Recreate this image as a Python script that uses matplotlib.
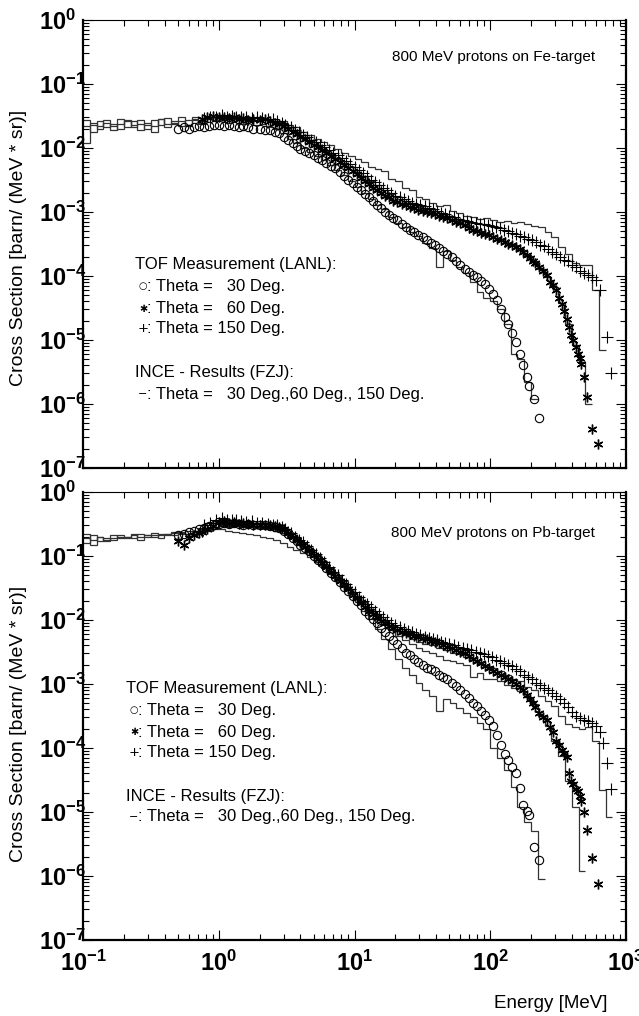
import numpy as np
import matplotlib
matplotlib.use('Agg')
from matplotlib import pyplot as plt
from matplotlib import font_manager as fm
from matplotlib.ticker import LogLocator, NullFormatter, FuncFormatter

### Data ###

# common histogram bin edges of the INCE calculation (MeV)
EDGES = [0.1, 0.112, 0.126, 0.141, 0.158, 0.178, 0.2, 0.224, 0.251, 0.282,
         0.316, 0.355, 0.398, 0.447, 0.501, 0.562, 0.631, 0.708, 0.794, 0.891,
         1.0, 1.12, 1.26, 1.41, 1.58, 1.78, 2.0, 2.24, 2.51, 2.82,
         3.16, 3.55, 3.98, 4.47, 5.01, 5.62, 6.31, 7.08, 7.94, 8.91,
         10.0, 11.2, 12.6, 14.1, 15.8, 17.8, 20.0, 22.4, 25.1, 28.2,
         31.6, 35.5, 39.8, 44.7, 50.1, 56.2, 63.1, 70.8, 79.4, 89.1,
         100, 112, 126, 141, 158, 178, 200, 224, 251, 282,
         316, 355, 398, 447, 501, 562, 631, 708, 794]

# --- Fe target, INCE histograms ---
INCE_FE_150 = [0.012, 0.025, 0.022, 0.027, 0.019, 0.024, 0.026, 0.021, 0.027, 0.023,
               0.018, 0.028, 0.024, 0.026, 0.030, 0.022, 0.028, 0.025, 0.031, 0.027,
               0.030, 0.028, 0.031, 0.027, 0.029, 0.026, 0.028, 0.027, 0.025, 0.026,
               0.023, 0.021, 0.018, 0.016, 0.014, 0.0125, 0.011, 0.0095, 0.0085, 0.0075,
               0.0068, 0.0060, 0.0050, 0.0047, 0.0043, 0.0033, 0.0030, 0.0024, 0.0022, 0.0017,
               0.0016, 0.0014, 0.00125, 0.0013, 0.00105, 0.00098, 0.00088, 0.00085, 0.00078, 0.00080,
               0.00074, 0.00070, 0.00072, 0.00068, 0.00070, 0.00064, 0.00060, 0.00058, 0.00048, 0.00040,
               0.00028, 0.00022, 0.00016, 0.00015, 0.00015, 0.00006, 0.000007]
INCE_FE_60 = [0.027, 0.023, 0.020, 0.025, 0.022, 0.028, 0.021, 0.026, 0.024, 0.020,
              0.027, 0.023, 0.029, 0.025, 0.022, 0.027, 0.030, 0.026, 0.029, 0.031,
              0.032, 0.029, 0.030, 0.028, 0.031, 0.027, 0.029, 0.027, 0.026, 0.024,
              0.021, 0.018, 0.015, 0.013, 0.011, 0.0095, 0.0080, 0.0068, 0.0058, 0.0050,
              0.0042, 0.0036, 0.0030, 0.0026, 0.0022, 0.0019, 0.0017, 0.0015, 0.0014, 0.0012,
              0.0011, 0.00095, 0.00090, 0.00082, 0.00075, 0.00068, 0.00062, 0.00055, 0.00050, 0.00045,
              0.00042, 0.00037, 0.00033, 0.00030, 0.00026, 0.00021, 0.00017, 0.00013, 0.000095, 0.000068,
              0.000038, 0.000018, 0.0000085, 0.0000045, 0.000001]
INCE_FE_30 = [0.022, 0.018, 0.026, 0.021, 0.024, 0.020, 0.027, 0.023, 0.019, 0.025,
              0.022, 0.028, 0.021, 0.024, 0.026, 0.023, 0.027, 0.024, 0.028, 0.026,
              0.027, 0.025, 0.028, 0.024, 0.026, 0.023, 0.024, 0.021, 0.020, 0.017,
              0.014, 0.012, 0.0100, 0.0088, 0.0076, 0.0065, 0.0055, 0.0046, 0.0038, 0.0031,
              0.0025, 0.0020, 0.0016, 0.0013, 0.0011, 0.00085, 0.00068, 0.00058, 0.00048, 0.00042,
              0.00033, 0.00027, 0.00014, 0.00025, 0.00018, 0.00014, 0.00011, 0.000080, 0.000056, 0.000045,
              0.000040, 0.000030, 0.000018, 0.0000060, 0.0000050, 0.0000022, 0.0000012]

# --- Pb target, INCE histograms ---
INCE_PB_150 = [0.22, 0.18, 0.20, 0.17, 0.19, 0.21, 0.20, 0.19, 0.22, 0.21,
               0.20, 0.22, 0.21, 0.23, 0.24, 0.22, 0.25, 0.27, 0.26, 0.28,
               0.30, 0.29, 0.30, 0.29, 0.29, 0.28, 0.28, 0.27, 0.26, 0.25,
               0.22, 0.19, 0.16, 0.13, 0.105, 0.085, 0.066, 0.051, 0.040, 0.030,
               0.024, 0.019, 0.015, 0.012, 0.0095, 0.0080, 0.0068, 0.0058, 0.0050, 0.0045,
               0.0042, 0.0040, 0.0036, 0.0034, 0.0031, 0.0029, 0.0026, 0.0024, 0.0021, 0.0019,
               0.0018, 0.0016, 0.0014, 0.0012, 0.0011, 0.0009, 0.0008, 0.00065, 0.00055, 0.00045,
               0.00032, 0.00024, 0.00021, 0.00020, 0.00021, 0.00013, 0.000022, 0.0000083]
INCE_PB_60 = [0.19, 0.15, 0.20, 0.18, 0.21, 0.19, 0.20, 0.22, 0.20, 0.21,
              0.23, 0.21, 0.22, 0.24, 0.22, 0.25, 0.24, 0.26, 0.27, 0.28,
              0.29, 0.28, 0.29, 0.28, 0.28, 0.27, 0.27, 0.26, 0.25, 0.23,
              0.20, 0.17, 0.14, 0.115, 0.093, 0.075, 0.058, 0.045, 0.035, 0.027,
              0.021, 0.018, 0.015, 0.011, 0.0088, 0.0070, 0.0057, 0.0048, 0.0042, 0.0036,
              0.0033, 0.0030, 0.0027, 0.0024, 0.0023, 0.0021, 0.0020, 0.0013, 0.0015, 0.0012,
              0.0012, 0.0011, 0.00095, 0.00088, 0.00078, 0.00062, 0.00048, 0.00032, 0.00022, 0.00013,
              0.000074, 0.000030, 0.000012, 0.0000012]
INCE_PB_30 = [0.16, 0.21, 0.17, 0.19, 0.18, 0.20, 0.19, 0.21, 0.18, 0.20,
              0.21, 0.19, 0.22, 0.21, 0.23, 0.22, 0.24, 0.23, 0.25, 0.26,
              0.26, 0.25, 0.24, 0.23, 0.22, 0.21, 0.20, 0.19, 0.175, 0.16,
              0.14, 0.125, 0.11, 0.095, 0.08, 0.066, 0.052, 0.042, 0.033, 0.026,
              0.019, 0.014, 0.0105, 0.0072, 0.0050, 0.0035, 0.0025, 0.0018, 0.0014, 0.00105,
              0.00080, 0.00066, 0.00038, 0.00058, 0.00050, 0.00042, 0.00035, 0.00030, 0.00025, 0.00020,
              0.00010, 0.00007, 0.000045, 0.000025, 0.000012, 0.000007, 0.000005, 0.0000009]

# --- TOF measurement (LANL), energies in MeV ---
E_30 = [0.50, 0.55, 0.60, 0.66, 0.72, 0.78, 0.85, 0.92, 1.0, 1.1,
        1.2, 1.3, 1.4, 1.5, 1.65, 1.8, 2.0, 2.2, 2.4, 2.6,
        2.8, 3.0, 3.25, 3.5, 3.75, 4.0, 4.3, 4.6, 5.0, 5.4,
        5.8, 6.2, 6.7, 7.2, 7.8, 8.4, 9.0, 9.7, 10.4, 11.2,
        12, 12.8, 13.6, 14.6, 15.6, 16.7, 18, 19.3, 20.7, 22.2,
        23.8, 25.5, 27.5, 29.5, 31.7, 34, 36.5, 39, 42, 45,
        48, 52, 56, 60, 65, 70, 75, 80, 86, 92,
        98, 105, 112, 120, 128, 136, 145, 155, 165, 175,
        185, 192, 210, 230]
E_60 = [0.75, 0.82, 0.9, 1.0, 1.1, 1.2, 1.3, 1.4, 1.5, 1.65,
        1.8, 2.0, 2.2, 2.4, 2.6, 2.8, 3.0, 3.25, 3.5, 3.75,
        4.0, 4.3, 4.6, 5.0, 5.4, 5.8, 6.2, 6.7, 7.2, 7.8,
        8.4, 9.0, 9.7, 10.4, 11.2, 12, 12.8, 13.6, 14.6, 15.6,
        16.7, 18, 19.3, 20.7, 22.2, 23.8, 25.5, 27.5, 29.5, 31.7,
        34, 36.5, 39, 42, 45, 48, 52, 56, 60, 65,
        70, 75, 80, 86, 92, 98, 105, 112, 120, 128,
        136, 145, 155, 165, 175, 185, 195, 205, 215, 230,
        245, 260, 275, 290, 305, 320, 335, 350, 365, 380,
        395, 410, 425, 440, 455, 470, 490, 520, 565, 625]
E_60_PB = [0.50, 0.55, 0.60, 0.66, 0.72] + E_60
E_150 = [0.78, 0.86, 0.95, 1.05, 1.15, 1.25, 1.35, 1.45, 1.6, 1.75,
         1.9, 2.1, 2.3, 2.5, 2.7, 2.9, 3.1, 3.4, 3.65, 3.9,
         4.15, 4.45, 4.8, 5.2, 5.6, 6.0, 6.5, 7.0, 7.5, 8.1,
         8.7, 9.3, 10, 10.8, 11.6, 12.4, 13.2, 14.1, 15.1, 16.2,
         17.4, 18.7, 20, 21.5, 23, 24.7, 26.5, 28.5, 30.6, 32.8,
         35.2, 37.8, 40.5, 43.5, 46.5, 50, 54, 58, 62.5, 67.5,
         72.5, 78, 84, 90, 96, 103, 110, 118, 126, 135,
         145, 155, 166, 178, 190, 204, 218, 234, 250, 268,
         286, 306, 328, 350, 375, 400, 428, 458, 490, 525]
E_150_FE = E_150 + [560, 600, 640, 720, 770]
E_150_PB = E_150 + [560, 600, 640, 680, 725, 780]

TOF_FE_30 = [0.020, 0.021, 0.020, 0.021, 0.022, 0.021, 0.022, 0.023, 0.023, 0.022,
             0.023, 0.022, 0.021, 0.022, 0.021, 0.020, 0.020, 0.019, 0.019, 0.018,
             0.017, 0.015, 0.0135, 0.012, 0.0108, 0.0098, 0.0090, 0.0083, 0.0077, 0.0070,
             0.0064, 0.0058, 0.0053, 0.0048, 0.0042, 0.0037, 0.0032, 0.0028, 0.0025, 0.0022,
             0.0019, 0.0017, 0.0015, 0.0013, 0.00115, 0.0010, 0.00090, 0.00082, 0.00074, 0.00066,
             0.00059, 0.00053, 0.00048, 0.00044, 0.00040, 0.00036, 0.00033, 0.00030, 0.00027, 0.00025,
             0.00022, 0.00020, 0.00017, 0.00015, 0.00013, 0.000115, 0.000105, 0.000096, 0.000084, 0.000074,
             0.000062, 0.000052, 0.000042, 0.000031, 0.000023, 0.000018, 0.000013, 0.0000092, 0.0000060, 0.0000040,
             0.0000026, 0.0000019, 0.0000012, 0.0000006]
TOF_FE_60 = [0.028, 0.031, 0.032, 0.030, 0.031, 0.029, 0.030, 0.028, 0.029, 0.027,
             0.028, 0.027, 0.028, 0.026, 0.025, 0.024, 0.022, 0.020, 0.018, 0.0165,
             0.015, 0.0138, 0.0125, 0.0112, 0.0102, 0.0093, 0.0085, 0.0076, 0.0068, 0.0060,
             0.0054, 0.0049, 0.0043, 0.0039, 0.0034, 0.0030, 0.0027, 0.0024, 0.0022, 0.0020,
             0.0018, 0.0017, 0.0015, 0.00145, 0.00135, 0.00127, 0.00120, 0.00114, 0.00108, 0.00104,
             0.00100, 0.00096, 0.00092, 0.00088, 0.00084, 0.00080, 0.00076, 0.00071, 0.00067, 0.00062,
             0.00057, 0.00053, 0.00050, 0.00047, 0.00045, 0.00043, 0.00041, 0.00038, 0.00036, 0.00034,
             0.00032, 0.00030, 0.00028, 0.00026, 0.00024, 0.00021, 0.00019, 0.00017, 0.00016, 0.00014,
             0.00012, 0.000105, 0.000081, 0.000072, 0.000060, 0.000045, 0.000036, 0.000028, 0.000021, 0.000016,
             0.000012, 0.000010, 0.0000078, 0.0000060, 0.0000052, 0.0000042, 0.0000026, 0.0000013, 0.0000004, 0.00000024]
TOF_FE_150 = [0.029, 0.031, 0.030, 0.033, 0.031, 0.032, 0.030, 0.031, 0.030, 0.029,
              0.030, 0.029, 0.028, 0.028, 0.026, 0.025, 0.023, 0.021, 0.019, 0.0175,
              0.016, 0.0148, 0.0135, 0.0124, 0.0113, 0.0103, 0.0093, 0.0084, 0.0077, 0.0069,
              0.0062, 0.0056, 0.0050, 0.0045, 0.0040, 0.0036, 0.0032, 0.0029, 0.0026, 0.0024,
              0.0022, 0.0020, 0.0018, 0.0017, 0.0016, 0.0015, 0.0014, 0.00135, 0.00128, 0.00122,
              0.00116, 0.00110, 0.00104, 0.00098, 0.00092, 0.00087, 0.00083, 0.00079, 0.00076, 0.00073,
              0.00070, 0.00068, 0.00066, 0.00064, 0.00062, 0.00060, 0.00059, 0.00056, 0.00053, 0.00050,
              0.00047, 0.00045, 0.00042, 0.00040, 0.00038, 0.00036, 0.00034, 0.00031, 0.00029, 0.00026,
              0.00024, 0.00022, 0.00020, 0.00018, 0.00017, 0.00015, 0.00014, 0.00012, 0.00011, 0.000105,
              0.000098, 0.000087, 0.000060, 0.000011, 0.000003]

TOF_PB_30 = [0.21, 0.22, 0.24, 0.25, 0.26, 0.27, 0.29, 0.30, 0.32, 0.33,
             0.32, 0.33, 0.32, 0.31, 0.32, 0.31, 0.30, 0.30, 0.29, 0.28,
             0.27, 0.25, 0.22, 0.19, 0.17, 0.15, 0.135, 0.12, 0.10, 0.088,
             0.077, 0.066, 0.055, 0.047, 0.039, 0.033, 0.028, 0.024, 0.020, 0.017,
             0.014, 0.012, 0.0105, 0.0090, 0.0076, 0.0066, 0.0056, 0.0048, 0.0042, 0.0036,
             0.0031, 0.0028, 0.0025, 0.0022, 0.0020, 0.0018, 0.0017, 0.0016, 0.0014, 0.0013,
             0.0012, 0.00105, 0.00094, 0.00082, 0.00070, 0.00060, 0.00051, 0.00045, 0.00038, 0.00033,
             0.00027, 0.00022, 0.00016, 0.00011, 0.000080, 0.000065, 0.000050, 0.000040, 0.000024, 0.000013,
             0.0000105, 0.0000090, 0.0000028, 0.0000018]
TOF_PB_60 = [0.17, 0.15, 0.19, 0.21, 0.23,
             0.24, 0.26, 0.29, 0.34, 0.35, 0.33, 0.34, 0.32, 0.33, 0.32,
             0.31, 0.31, 0.30, 0.30, 0.29, 0.28, 0.26, 0.23, 0.20, 0.18,
             0.16, 0.14, 0.125, 0.105, 0.090, 0.078, 0.068, 0.057, 0.049, 0.041,
             0.035, 0.030, 0.025, 0.022, 0.019, 0.016, 0.014, 0.0125, 0.011, 0.0098,
             0.0089, 0.0081, 0.0075, 0.0070, 0.0066, 0.0063, 0.0060, 0.0057, 0.0055, 0.0052,
             0.0050, 0.0047, 0.0045, 0.0043, 0.0040, 0.0038, 0.0036, 0.0034, 0.0032, 0.0030,
             0.0027, 0.0025, 0.0023, 0.0021, 0.0019, 0.0018, 0.0016, 0.0015, 0.0014, 0.0013,
             0.0012, 0.0011, 0.0010, 0.00090, 0.00080, 0.00068, 0.00058, 0.00050, 0.00043, 0.00035,
             0.00031, 0.00027, 0.00021, 0.00018, 0.00013, 0.00011, 0.000093, 0.000083, 0.000072, 0.000040,
             0.000030, 0.000027, 0.000023, 0.000021, 0.000018, 0.000015, 0.000010, 0.0000052, 0.0000019, 0.00000075]
TOF_PB_150 = [0.30, 0.33, 0.36, 0.39, 0.37, 0.36, 0.37, 0.35, 0.34, 0.35,
              0.33, 0.33, 0.32, 0.31, 0.30, 0.28, 0.26, 0.23, 0.20, 0.18,
              0.165, 0.145, 0.125, 0.107, 0.093, 0.080, 0.067, 0.057, 0.050, 0.042,
              0.036, 0.031, 0.027, 0.023, 0.020, 0.018, 0.016, 0.014, 0.0125, 0.0112,
              0.0100, 0.0090, 0.0083, 0.0077, 0.0072, 0.0068, 0.0065, 0.0061, 0.0058, 0.0055,
              0.0052, 0.0050, 0.0048, 0.0046, 0.0044, 0.0042, 0.0040, 0.0038, 0.0037, 0.0035,
              0.0034, 0.0032, 0.0031, 0.0029, 0.0027, 0.0026, 0.0024, 0.0023, 0.0021, 0.0020,
              0.0019, 0.0017, 0.0016, 0.0014, 0.0013, 0.0012, 0.00105, 0.00095, 0.00088, 0.00080,
              0.00073, 0.00066, 0.00058, 0.00050, 0.00043, 0.00036, 0.00032, 0.00029, 0.00027, 0.00026,
              0.00025, 0.00022, 0.00018, 0.00012, 0.000058, 0.000023]

XTICKS = [0.1, 1, 10, 100, 1000]
YTICKS = [1e-7, 1e-6, 1e-5, 1e-4, 1e-3, 1e-2, 1e-1, 1]

TITLES = ['800 MeV protons on Fe-target', '800 MeV protons on Pb-target']
LEGEND_HEAD = ['TOF Measurement (LANL):', 'INCE - Results (FZJ):']
LEGEND_ROWS = [': Theta =   30 Deg.', ': Theta =   60 Deg.', ': Theta = 150 Deg.']
LEGEND_INCE = ': Theta =   30 Deg.,60 Deg., 150 Deg.'
YLABEL = 'Cross Section [barn/ (MeV * sr)]'
XLABEL = 'Energy [MeV]'


def has_font(name):
    try:
        fm.findfont(fm.FontProperties(family=name), fallback_to_default=False)
        return True
    except ValueError:
        return False


NARROW = has_font('Liberation Sans Narrow')

plt.rcParams.update({
    'font.family': ['Liberation Sans', 'DejaVu Sans'],
    'mathtext.fontset': 'custom',
    'mathtext.rm': 'Liberation Sans',
    'mathtext.bf': 'Liberation Sans:bold',
    'mathtext.it': 'Liberation Sans:italic',
})

W, H = 639, 1016


def px(x, y):
    return x / W, 1 - y / H


def pow_label(v, pos):
    return r'$\mathbf{10^{%d}}$' % int(round(np.log10(v)))


def setup_axes(ax, show_x):
    ax.set_xscale('log')
    ax.set_yscale('log')
    ax.set_xlim(0.1, 1000)
    ax.set_ylim(1e-7, 1)
    ax.set_xticks(XTICKS)
    ax.set_yticks(YTICKS)
    for axis in (ax.xaxis, ax.yaxis):
        axis.set_minor_locator(LogLocator(base=10, subs=np.arange(2, 10), numticks=100))
        axis.set_minor_formatter(NullFormatter())
        axis.set_major_formatter(FuncFormatter(pow_label))
    ax.tick_params(which='both', direction='in', top=True, right=True,
                   width=0.8, color='k')
    ax.tick_params(which='major', length=7)
    ax.tick_params(which='minor', length=4.5)
    ax.tick_params(axis='y', pad=32, labelsize=17)
    ax.tick_params(axis='x', pad=8, labelsize=17, labelbottom=show_x)
    for lbl in ax.get_yticklabels():
        lbl.set_horizontalalignment('left')
    for side in ('left', 'right', 'bottom'):
        ax.spines[side].set_linewidth(1.6)
    ax.spines['top'].set_linewidth(0.8)


def draw_panel(ax, hists, tof, title, pos):
    for vals in hists:
        ax.stairs(vals, EDGES[:len(vals) + 1], baseline=None,
                  color='#333333', lw=0.9, zorder=2)
    (e30, s30), (e60, s60), (e150, s150) = tof
    ax.plot(e30, s30, ls='none', marker='o', ms=6, mfc='none', mec='k',
            mew=0.8, zorder=3)
    ax.plot(e60, s60, ls='none', marker=(6, 2, 0), ms=7, color='k',
            mew=1.0, zorder=3)
    ax.plot(e150, s150, ls='none', marker='+', ms=8, color='k',
            mew=0.8, zorder=3)

    # annotation block
    if NARROW:
        fig.text(*px(595, pos['title']), title, ha='right', va='center',
                 family=['Liberation Sans Narrow'], fontsize=13.5)
    else:
        fig.text(*px(595, pos['title']), title, ha='right', va='center',
                 fontsize=11)
    fs = 12
    fig.text(*px(pos['x0'], pos['tof']), LEGEND_HEAD[0], ha='left',
             va='center', fontsize=fs)
    symbols = [('\u25cb', 7), ('\u2731', 7), ('+', 9.5)]
    for (sym, sfs), row, y in zip(symbols, LEGEND_ROWS, pos['rows']):
        fig.text(*px(pos['sx'], y), sym, ha='center', va='center',
                 fontsize=sfs, family=['DejaVu Sans'])
        fig.text(*px(pos['tx'], y), row, ha='left', va='center', fontsize=fs)
    fig.text(*px(pos['x0'], pos['ince']), LEGEND_HEAD[1], ha='left',
             va='center', fontsize=fs)
    fig.text(*px(pos['sx'], pos['minus']), '\u2212', ha='center', va='center',
             fontsize=8, family=['DejaVu Sans'])
    fig.text(*px(pos['tx'], pos['minus']), LEGEND_INCE, ha='left',
             va='center', fontsize=fs)
    fig.text(*px(19, pos['ylab']), YLABEL, rotation=90, ha='center',
             va='center', fontsize=14)


fig = plt.figure(figsize=(W / 100, H / 100), dpi=100)
ax_fe = fig.add_axes([83 / W, 1 - 468 / H, 543 / W, 448 / H])
ax_pb = fig.add_axes([83 / W, 1 - 940 / H, 543 / W, 448 / H])

setup_axes(ax_fe, show_x=False)
setup_axes(ax_pb, show_x=True)

draw_panel(ax_fe, [INCE_FE_30, INCE_FE_60, INCE_FE_150],
           [(E_30, TOF_FE_30), (E_60, TOF_FE_60), (E_150_FE, TOF_FE_150)],
           TITLES[0],
           dict(title=57, x0=135, tof=265, sx=143, tx=147, rows=[286, 309, 329],
                ince=373, minus=394, ylab=248))
draw_panel(ax_pb, [INCE_PB_30, INCE_PB_60, INCE_PB_150],
           [(E_30, TOF_PB_30), (E_60_PB, TOF_PB_60), (E_150_PB, TOF_PB_150)],
           TITLES[1],
           dict(title=533, x0=126, tof=688, sx=134, tx=138, rows=[710, 732, 753],
                ince=797, minus=817, ylab=724))

fig.text(*px(608, 1004), XLABEL, ha='right', va='center', fontsize=13.5)

fig.savefig('out.png', dpi=100)
